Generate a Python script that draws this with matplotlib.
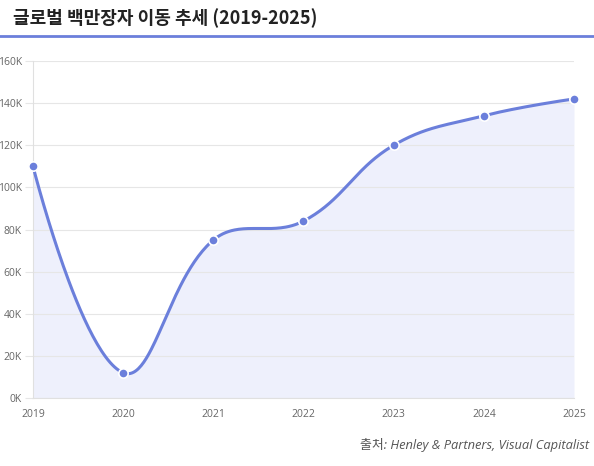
import numpy as np
import matplotlib
matplotlib.use("Agg")
import matplotlib.pyplot as plt

plt.rcParams['font.family'] = ['Open Sans', 'Noto Sans CJK KR', 'DejaVu Sans']

years = [2019, 2020, 2021, 2022, 2023, 2024, 2025]
millionaires = [110000, 12000, 75000, 84000, 120000, 134000, 142000]
y_ticks = [0, 20000, 40000, 60000, 80000, 100000, 120000, 140000, 160000]
y_labels = ['0K', '20K', '40K', '60K', '80K', '100K', '120K', '140K', '160K']

line_color = '#6b7fdb'
fill_color = '#eef0fc'

fig = plt.figure(figsize=(5.94, 4.66), dpi=100)
fig.text(13 / 594, 1 - 18 / 466, '글로벌 백만장자 이동 추세 (2019-2025)',
         fontsize=13, fontweight='bold', color='#222222', va='center', ha='left',
         family=['Noto Sans CJK KR', 'DejaVu Sans'])
fig.add_artist(plt.Line2D([0, 1], [1 - 36 / 466, 1 - 36 / 466],
                          color='#6b7fdb', lw=2, transform=fig.transFigure))

ax = fig.add_axes([33 / 594, 1 - 398 / 466, (574 - 33) / 594, (398 - 61) / 466])
ax.set_xlim(years[0], years[-1])
ax.set_ylim(0, 160000)

# chart.js style spline (tension 0.4) computed in pixel space
fig.canvas.draw()
pts = ax.transData.transform(np.column_stack([years, millionaires]))
t = 0.4
n = len(pts)
cp_prev = pts.copy()
cp_next = pts.copy()
for i in range(1, n - 1):
    p0, p1, p2 = pts[i - 1], pts[i], pts[i + 1]
    d01 = np.hypot(*(p1 - p0))
    d12 = np.hypot(*(p2 - p1))
    s01 = d01 / (d01 + d12)
    s12 = d12 / (d01 + d12)
    cp_prev[i] = p1 - t * s01 * (p2 - p0)
    cp_next[i] = p1 + t * s12 * (p2 - p0)
curve = []
u = np.linspace(0, 1, 60)[:, None]
for i in range(n - 1):
    a, b, c, d = pts[i], cp_next[i], cp_prev[i + 1], pts[i + 1]
    seg = (1 - u) ** 3 * a + 3 * (1 - u) ** 2 * u * b + 3 * (1 - u) * u ** 2 * c + u ** 3 * d
    curve.append(seg if i == 0 else seg[1:])
curve = np.vstack(curve)
curve = ax.transData.inverted().transform(curve)

ax.fill_between(curve[:, 0], curve[:, 1], 0, color=fill_color, lw=0, zorder=1)
ax.plot(curve[:, 0], curve[:, 1], color=line_color, lw=2.2, zorder=3, solid_capstyle='round')
ax.scatter(years, millionaires, s=45, color=line_color, edgecolor='white', linewidth=1.2,
           zorder=4, clip_on=False)

ax.set_xticks(years)
ax.set_xticklabels([str(y) for y in years])
ax.set_yticks(y_ticks)
ax.set_yticklabels(y_labels)
ax.grid(axis='y', color='#e6e6e6', lw=0.8, zorder=0)
ax.tick_params(axis='y', length=6, color='#e6e6e6', labelsize=7.5, labelcolor='#666666', pad=2)
ax.tick_params(axis='x', length=0, labelsize=7.5, labelcolor='#666666', pad=8)
for s in ['top', 'right']:
    ax.spines[s].set_visible(False)
for s in ['left', 'bottom']:
    ax.spines[s].set_color('#e0e0e0')
    ax.spines[s].set_linewidth(0.8)
ax.set_facecolor('white')

fig.text(589 / 594, 1 - 445 / 466, '출처: Henley & Partners, Visual Capitalist',
         fontsize=9.3, style='italic', color='#555555', ha='right', va='center')

fig.savefig('out.png', dpi=100)
